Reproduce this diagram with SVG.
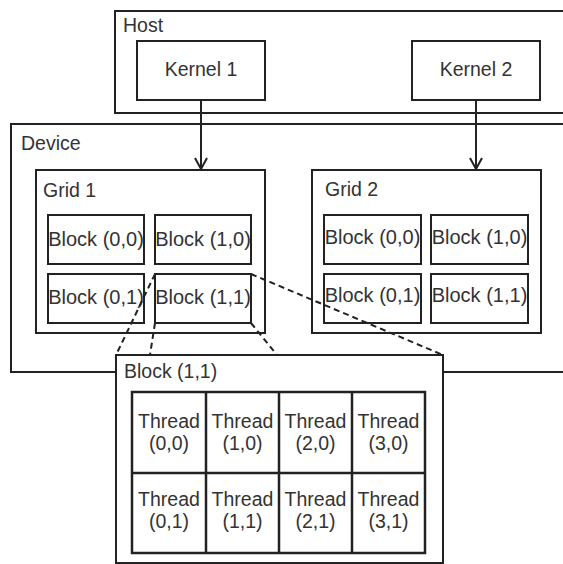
<svg xmlns="http://www.w3.org/2000/svg" width="563" height="564" viewBox="0 0 563 564">
<defs>
<style>
rect{fill:#fff;stroke:#222;stroke-width:2}
text{font-family:"Liberation Sans",Arial,sans-serif;font-size:19.5px;fill:#333}
.c{text-anchor:middle}
.b{font-size:20px}
.conn{stroke:#222;stroke-width:2;fill:none}
.dash{stroke:#222;stroke-width:2;stroke-dasharray:6,4;fill:none}
.tg{fill:none;stroke:#222;stroke-width:2.5}
</style>
<marker id="arr" viewBox="0 0 14 14" refX="12" refY="7" markerWidth="14" markerHeight="14" markerUnits="userSpaceOnUse" orient="auto">
<path d="M1,1 L12,7 L1,13" fill="none" stroke="#222" stroke-width="2"/>
</marker>
</defs>
<rect width="563" height="564" style="fill:#fff;stroke:none"/>
<g id="host">
<rect x="115" y="11" width="500" height="102"/>
<text x="123" y="32">Host</text>
</g>
<g id="kernel1">
<rect x="137" y="41" width="128" height="59"/>
<text class="c" x="201" y="76">Kernel 1</text>
</g>
<g id="kernel2">
<rect x="412" y="41" width="128" height="59"/>
<text class="c" x="476" y="76">Kernel 2</text>
</g>
<g id="device">
<rect x="11" y="124" width="600" height="248"/>
<text x="21" y="150">Device</text>
</g>
<g id="grid1">
<rect x="36" y="170" width="229" height="163"/>
<text x="43" y="197">Grid 1</text>
</g>
<g id="g1b00"><rect x="48" y="215" width="96" height="49"/><text class="c b" x="96" y="245.5">Block (0,0)</text></g>
<g id="g1b10"><rect x="155" y="215" width="96" height="49"/><text class="c b" x="203" y="245.5">Block (1,0)</text></g>
<g id="g1b01"><rect x="48" y="274" width="96" height="49"/><text class="c b" x="96" y="303.5">Block (0,1)</text></g>
<g id="g1b11"><rect x="155" y="274" width="96" height="49"/><text class="c b" x="203" y="303.5">Block (1,1)</text></g>
<g id="grid2">
<rect x="312" y="170" width="229" height="163"/>
<text x="325" y="196">Grid 2</text>
</g>
<g id="g2b00"><rect x="324" y="215" width="97" height="49"/><text class="c b" x="372.5" y="244">Block (0,0)</text></g>
<g id="g2b10"><rect x="431" y="215" width="97" height="49"/><text class="c b" x="479.5" y="244">Block (1,0)</text></g>
<g id="g2b01"><rect x="324" y="274" width="97" height="49"/><text class="c b" x="372.5" y="302">Block (0,1)</text></g>
<g id="g2b11"><rect x="431" y="274" width="97" height="49"/><text class="c b" x="479.5" y="302">Block (1,1)</text></g>
<g id="connectors">
<line class="conn" x1="201" y1="100" x2="201" y2="169" marker-end="url(#arr)"/>
<line class="conn" x1="476" y1="100" x2="476" y2="169" marker-end="url(#arr)"/>
<line class="dash" x1="155" y1="274" x2="116" y2="355"/>
<line class="dash" x1="155" y1="323" x2="150" y2="355"/>
<line class="dash" x1="251" y1="323" x2="277" y2="355"/>
<line class="dash" x1="251" y1="274" x2="443" y2="355"/>
</g>
<g id="block11detail">
<rect x="116" y="355" width="327" height="208"/>
<text x="124" y="378">Block (1,1)</text>
<rect class="tg" x="132" y="392" width="293" height="161"/>
<path class="tg" d="M206,392V553M279,392V553M352,392V553M132,473H425"/>
<text class="c" x="169" y="428">Thread</text><text class="c" x="169" y="450">(0,0)</text>
<text class="c" x="242.5" y="428">Thread</text><text class="c" x="242.5" y="450">(1,0)</text>
<text class="c" x="315.5" y="428">Thread</text><text class="c" x="315.5" y="450">(2,0)</text>
<text class="c" x="388.5" y="428">Thread</text><text class="c" x="388.5" y="450">(3,0)</text>
<text class="c" x="169" y="506">Thread</text><text class="c" x="169" y="528">(0,1)</text>
<text class="c" x="242.5" y="506">Thread</text><text class="c" x="242.5" y="528">(1,1)</text>
<text class="c" x="315.5" y="506">Thread</text><text class="c" x="315.5" y="528">(2,1)</text>
<text class="c" x="388.5" y="506">Thread</text><text class="c" x="388.5" y="528">(3,1)</text>
</g>
</svg>
